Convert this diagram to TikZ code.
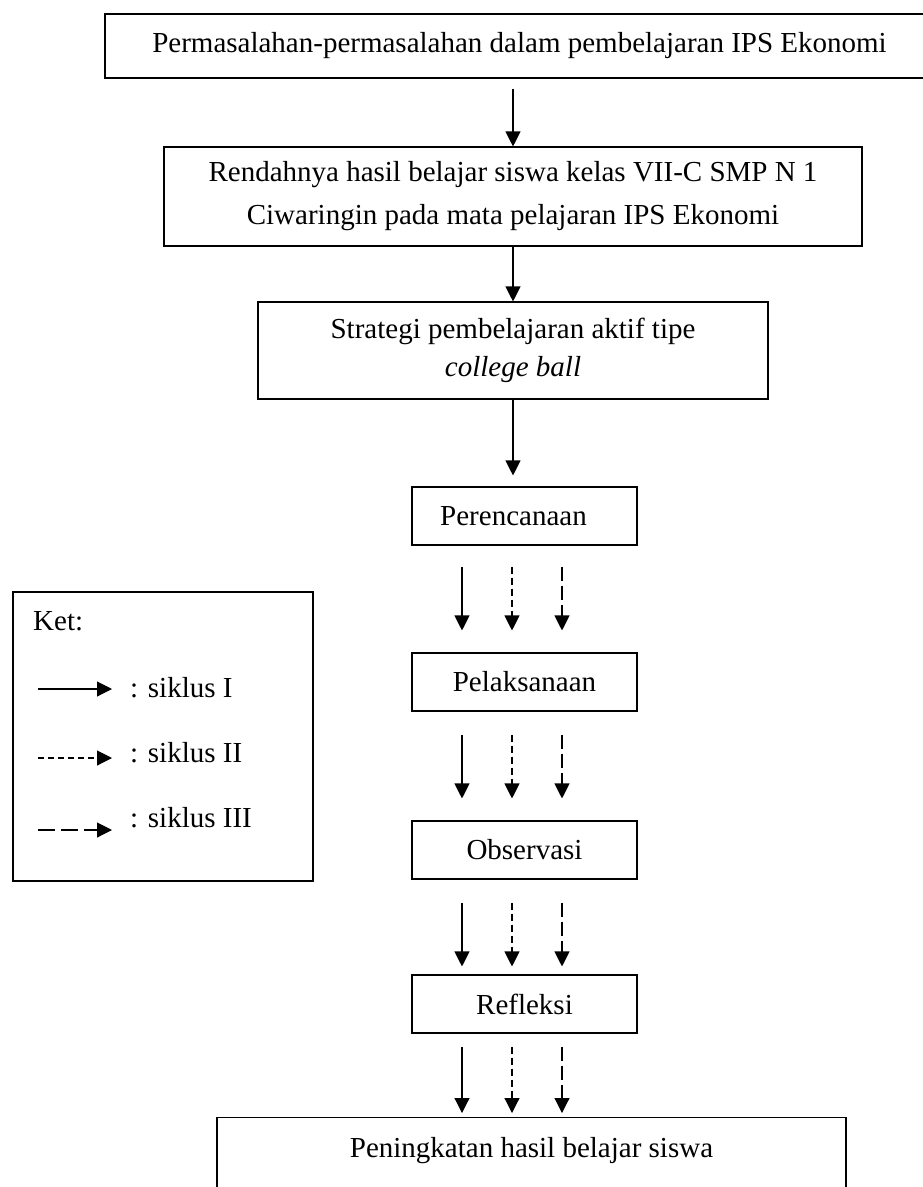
\documentclass[tikz,border=0pt]{standalone}
\usepackage{fontspec}
\setmainfont{Liberation Serif}
\usetikzlibrary{positioning, arrows.meta}
\tikzset{
  kotak/.style={draw, line width=1.1pt, inner sep=0pt, align=center, minimum height=58pt},
  siklusI/.style={line width=1.1pt, -{Triangle[length=15pt,width=15pt]}},
  siklusII/.style={siklusI, dash pattern=on 7pt off 4pt},
  siklusIII/.style={siklusI, dash pattern=on 14pt off 5pt},
}
% tiga panah (siklus I, II, III) dari #1 ke #2
\newcommand{\tigapanah}[4]{%
  \draw[siklusI, shorten <=#3, shorten >=#4] ([xshift=-62.5pt]#1.south) -- ([xshift=-62.5pt]#1.south |- #2.north);
  \draw[siklusII, shorten <=#3, shorten >=#4] ([xshift=-12.5pt]#1.south) -- ([xshift=-12.5pt]#1.south |- #2.north);
  \draw[siklusIII, shorten <=#3, shorten >=#4] ([xshift=37.5pt]#1.south) -- ([xshift=37.5pt]#1.south |- #2.north);
}

\begin{document}
\begin{tikzpicture}[x=1pt, y=-1pt, font=\fontsize{29pt}{40pt}\selectfont]
  \useasboundingbox (0,0) rectangle (923,1187);

  \node [kotak, minimum width=900pt, minimum height=64pt] (masalah) at (555,46) {Permasalahan-permasalahan dalam pembelajaran IPS Ekonomi\hspace*{71pt}};
  \node [kotak, minimum width=698pt, minimum height=99pt, font=\fontsize{29pt}{43pt}\selectfont] (rendah) at (513,196.5) {Rendahnya hasil belajar siswa kelas VII-C SMP N 1\\Ciwaringin pada mata pelajaran IPS Ekonomi};
  \node [kotak, minimum width=510pt, minimum height=97pt, font=\fontsize{29pt}{38pt}\selectfont] (strategi) at (513,350.5) {Strategi pembelajaran aktif tipe\\\textit{college ball}};
  \node [kotak, minimum width=225pt] (rencana) at (524.5,516) {Perencanaan\hspace*{22pt}};
  \node [kotak, minimum width=225pt] (laksana) at (524.5,682) {Pelaksanaan};
  \node [kotak, minimum width=225pt] (observasi) at (524.5,850) {Observasi};
  \node [kotak, minimum width=225pt] (refleksi) at (524.5,1004) {Refleksi};
  \node [kotak, minimum width=629pt, minimum height=0pt, text height=40pt, text depth=80pt, anchor=north] (hasil) at (531.5,1117) {Peningkatan hasil belajar siswa};

  \draw[siklusI, shorten <=10pt] (rendah.north |- masalah.south) -- (rendah.north);
  \draw[siklusI] (rendah.south) -- (strategi.north);
  \draw[siklusI, shorten >=11pt] (strategi.south) -- (strategi.south |- rencana.north);

  \tigapanah{rencana}{laksana}{21pt}{22pt}
  \tigapanah{laksana}{observasi}{23pt}{22pt}
  \tigapanah{observasi}{refleksi}{23pt}{8pt}
  \tigapanah{refleksi}{hasil}{13pt}{4pt}

  % keterangan
  \node [kotak, minimum width=300pt, minimum height=289pt] (ket) at (163,736.5) {};
  \node [anchor=base west, inner sep=0pt] (judul) at (33,630) {Ket:};
  \node [anchor=base west, inner sep=0pt] (s1) at (130,697) {: siklus I};
  \node [anchor=base west, inner sep=0pt] (s2) at (130,762) {: siklus II};
  \node [anchor=base west, inner sep=0pt] (s3) at (130,827) {: siklus III};
  \coordinate (a1) at (38,689);
  \coordinate (a2) at (38,758);
  \coordinate (a3) at (38,830);
  \draw[siklusI, shorten >=18pt] (a1) -- (a1 -| s1.west);
  \draw[siklusII, dash pattern=on 6pt off 4pt, shorten >=18pt] (a2) -- (a2 -| s2.west);
  \draw[siklusIII, dash pattern=on 17pt off 6pt, shorten >=18pt] (a3) -- (a3 -| s3.west);
\end{tikzpicture}
\end{document}
